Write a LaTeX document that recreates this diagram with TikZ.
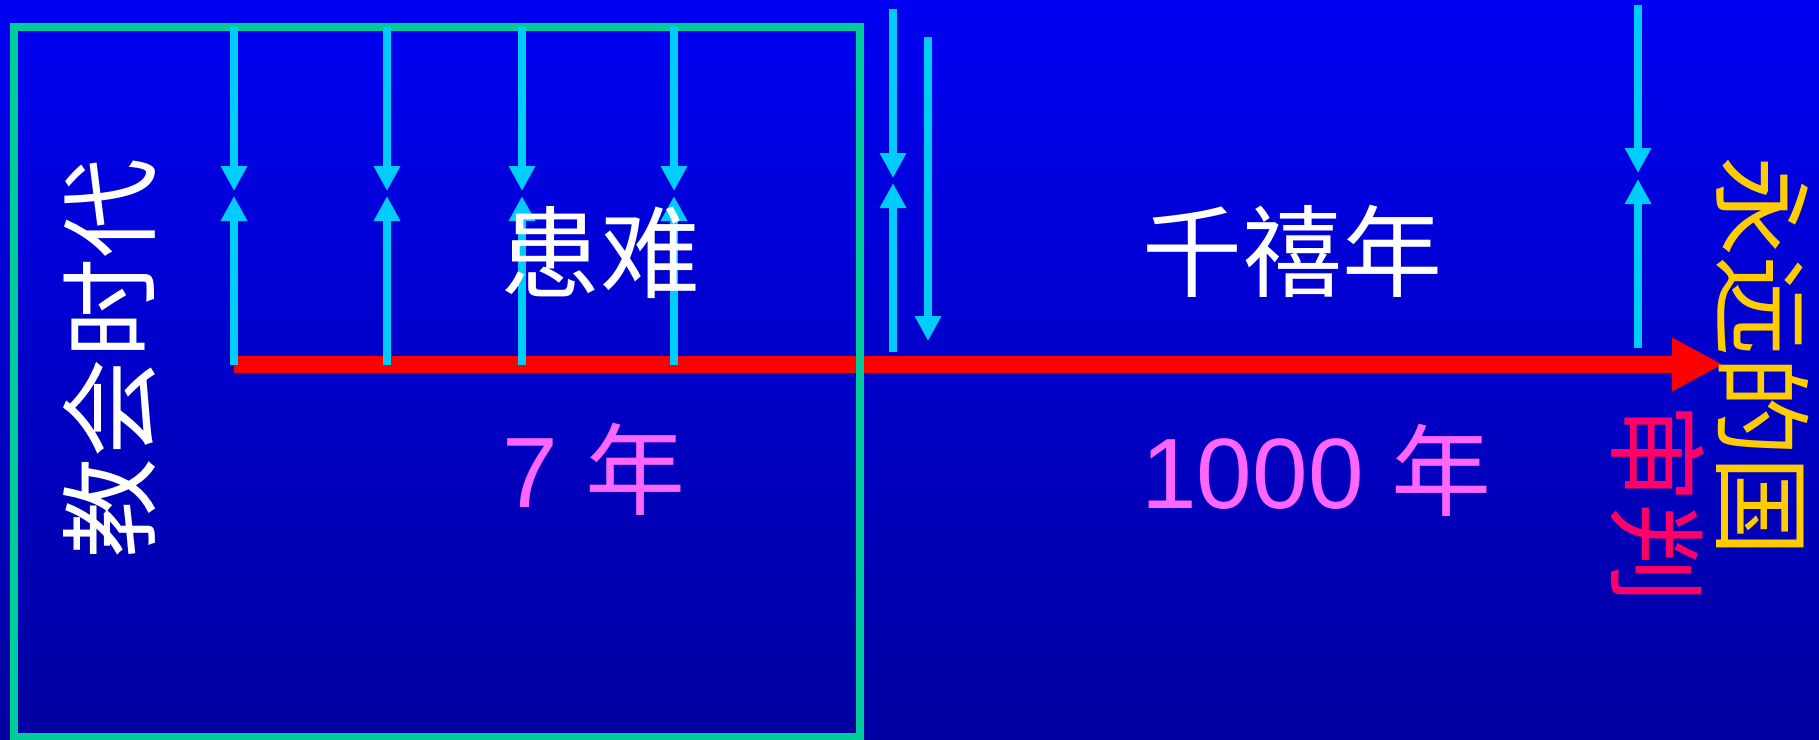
\documentclass[tikz,border=0pt]{standalone}
\usepackage{fontspec}
\setmainfont{Liberation Sans}
\newfontfamily\cjk{Noto Sans CJK SC}
\usetikzlibrary{arrows.meta}
\definecolor{bgtop}{RGB}{0,0,242}
\definecolor{bgbot}{RGB}{0,0,160}
\definecolor{cyanline}{RGB}{0,204,255}
\definecolor{boxgreen}{RGB}{0,204,153}
\definecolor{timered}{RGB}{255,0,0}
\definecolor{yeartext}{RGB}{255,102,255}
\definecolor{kingdom}{RGB}{255,204,0}
\definecolor{judge}{RGB}{255,0,102}
\begin{document}
\begin{tikzpicture}[x=1pt,y=-1pt,
  cyanarrow/.style={draw=cyanline, line width=8pt, -{Triangle[length=25pt,width=25pt]}},
  redarrow/.style={draw=timered, line width=17pt, -{Triangle[length=51pt,width=50pt]}},
  frame/.style={draw=boxgreen, line width=8pt},
  bigtext/.style={inner sep=0pt, font=\fontsize{100}{100}\selectfont\cjk},
  yeartxt/.style={inner sep=0pt, text=yeartext, font=\fontsize{100}{100}\selectfont}
]
\useasboundingbox (0,0) rectangle (1819,739);
\shade[top color=bgtop, bottom color=bgbot] (0,0) rectangle (1819,739);

% time line
\coordinate (redstart) at (234,364.5);
\coordinate (redend) at (1723,364.5);
\draw[redarrow] (redstart) -- (redend);

% church age frame
\coordinate (frameA) at (14,27);
\coordinate (frameB) at (860,737);
\draw[frame] (frameA) rectangle (frameB);

% arrows inside the frame
\foreach \n/\xx in {a/234,b/387,c/522,d/674}{
  \coordinate (\n top) at (\xx,27);
  \coordinate (\n down) at (\xx,191);
  \coordinate (\n up) at (\xx,196);
  \coordinate (\n bot) at (\xx,364.5);
}
\foreach \n in {a,b,c,d}{
  \draw[cyanarrow] (\n top) -- (\n down);
  \draw[cyanarrow] (\n bot) -- (\n up);
}

% arrows after the frame
\coordinate (etop) at (893,9);
\coordinate (edown) at (893,178);
\coordinate (eup) at (893,183);
\coordinate (ebot) at (893,352);
\draw[cyanarrow] (etop) -- (edown);
\draw[cyanarrow] (ebot) -- (eup);
\coordinate (ftop) at (928,37);
\coordinate (fdown) at (928,341);
\draw[cyanarrow] (ftop) -- (fdown);
\coordinate (gtop) at (1638,5);
\coordinate (gdown) at (1638,173);
\coordinate (gup) at (1638,179);
\coordinate (gbot) at (1638,348);
\draw[cyanarrow] (gtop) -- (gdown);
\draw[cyanarrow] (gbot) -- (gup);

% texts
\node[bigtext, text=white] (tribulation) at (600,253) {患难};
\node[bigtext, text=white] (millennium) at (1292,251) {千禧年};
\node[yeartxt, anchor=base west] (seven) at (502,507) {7 {\cjk 年}};
\node[yeartxt, anchor=base west] (thousand) at (1141,508) {1000 {\cjk 年}};
\node[bigtext, text=white, rotate=90] (church) at (110,358) {教会时代};
\node[bigtext, text=kingdom, rotate=-90] (eternal) at (1763,356) {永远的国};
\node[bigtext, text=judge, rotate=-90] (judgement) at (1658,503) {审判};
\end{tikzpicture}
\end{document}
